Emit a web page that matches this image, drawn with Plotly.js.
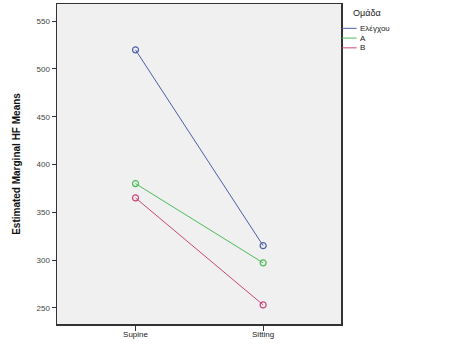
<!DOCTYPE html>
<html>
<head>
<meta charset="utf-8">
<script src="https://cdn.plot.ly/plotly-3.0.1.min.js"></script>
<style>body{margin:0;padding:0;background:#fff}#chart{width:451px;height:359px}</style>
</head>
<body>
<div id="chart"></div>
<script>
const categories = ["Supine", "Sitting"];
const groupNames = ["Ελέγχου", "A", "B"];
const controlValues = [520, 315];
const aValues = [380, 297];
const bValues = [365, 253];
const yTickValues = [250, 300, 350, 400, 450, 500, 550];
const legendTitle = "Ομάδα";

const colors = ["#4a5fa8", "#4cbc5a", "#c9457a"];
const series = [controlValues, aValues, bValues];
const xIdx = categories.map((c, i) => i);

const traces = series.map((vals, i) => ({
  x: xIdx, y: vals, type: "scatter", mode: "lines+markers",
  name: groupNames[i], showlegend: false,
  line: {color: colors[i], width: 1},
  marker: {symbol: "circle-open", size: 6, color: colors[i], line: {width: 1.2, color: colors[i]}}
}));

const shapes = [];
const annotations = [{
  xref: "paper", yref: "paper", x: 1.035, y: 0.971, xanchor: "left", yanchor: "middle",
  text: legendTitle, showarrow: false, font: {family: "Liberation Sans, Arial", size: 9, color: "#222"}
}];
groupNames.forEach((g, i) => {
  const yp = 0.924 - i * 0.0305;
  shapes.push({type: "line", xref: "paper", yref: "paper", x0: 1.003, x1: 1.055, y0: yp, y1: yp,
    line: {color: colors[i], width: 1}});
  annotations.push({xref: "paper", yref: "paper", x: 1.06, y: yp, xanchor: "left", yanchor: "middle",
    text: g, showarrow: false, font: {family: "Liberation Sans, Arial", size: 8, color: "#222"}});
});

const layout = {
  width: 451, height: 359,
  margin: {l: 57, r: 110, t: 4, b: 35},
  paper_bgcolor: "#ffffff", plot_bgcolor: "#f0f0f0",
  font: {family: "Liberation Sans, Arial", size: 8, color: "#444"},
  xaxis: {
    range: [-0.615, 1.61], tickvals: xIdx, ticktext: categories,
    showgrid: false, zeroline: false, showline: true, linecolor: "#333", linewidth: 1.5, mirror: true,
    ticks: "outside", ticklen: 5, tickcolor: "#333", tickfont: {size: 8, color: "#222"},
    ticklabelstandoff: -3
  },
  yaxis: {
    range: [233, 568], tickvals: yTickValues,
    showgrid: false, zeroline: false, showline: true, linecolor: "#333", linewidth: 1.5, mirror: true,
    ticks: "outside", ticklen: 4, tickcolor: "#333", tickfont: {size: 8, color: "#444"},
    title: {text: "Estimated Marginal HF Means", font: {size: 10, color: "#111", family: "Liberation Sans, Arial", weight: "bold"}, standoff: 14}
  },
  shapes: shapes,
  annotations: annotations
};

Plotly.newPlot("chart", traces, layout, {displayModeBar: false, staticPlot: true});
</script>
</body>
</html>
